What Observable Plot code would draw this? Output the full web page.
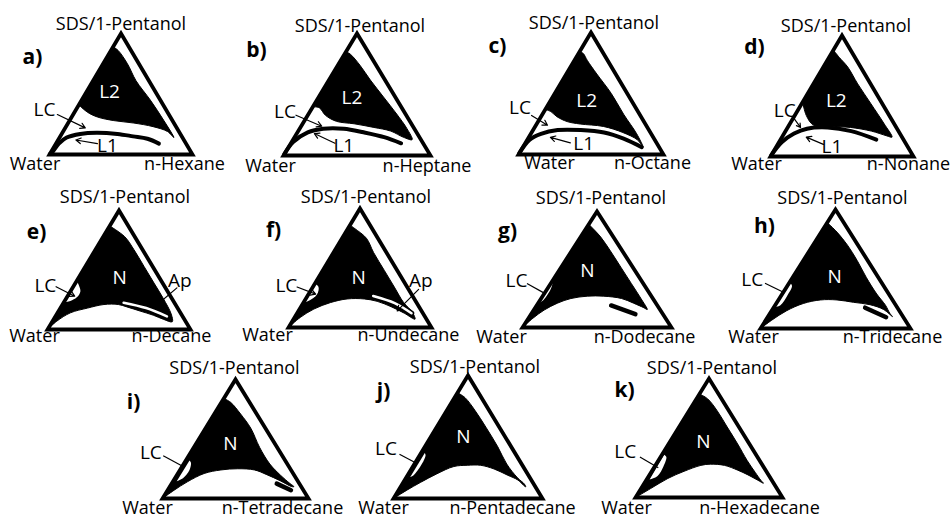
<!DOCTYPE html>
<html>
<head>
<meta charset="utf-8">
<script src="https://cdn.jsdelivr.net/npm/d3@7"></script>
<script src="https://cdn.jsdelivr.net/npm/@observablehq/plot@0.6"></script>
<style>
  html, body { margin: 0; padding: 0; background: #fff; }
  #fig { position: relative; width: 952px; height: 519px; overflow: hidden; }
</style>
</head>
<body>
<div id="fig"></div>
<script>
// Pseudo-ternary phase diagrams of water / n-alkane / SDS+1-pentanol.
// Every composition is [n-alkane %, SDS/1-pentanol %]; water is the remainder.

const tags = ["a)", "b)", "c)", "d)", "e)", "f)", "g)", "h)", "i)", "j)", "k)"];
const alkanes = ["n-Hexane", "n-Heptane", "n-Octane", "n-Nonane", "n-Decane", "n-Undecane",
  "n-Dodecane", "n-Tridecane", "n-Tetradecane", "n-Pentadecane", "n-Hexadecane"];
const apexName = "SDS/1-Pentanol";
const waterName = "Water";
const phaseNames = ["L2", "L2", "L2", "L2", "N", "N", "N", "N", "N", "N", "N"];

// Dark single-phase region: from its upper point on the water/surfactant side,
// down the oil-rich boundary to the tip, and back to the water/surfactant side.
const darkRegion = [
  [[0,89],[5,86],[17,75],[30,61],[48,45],[66,28],[80,14],[73,19],[61,23],[46,26],[31,28],[18,31],[9,35],[0,41]],
  [[0,85],[4,83],[15,74],[28,62],[44,48],[60,34],[73,22],[81,13],[74,15],[63,20],[50,23],[35,26],[22,28],[12,33],[5,39],[0,40]],
  [[0,84],[3,83],[9,77],[21,66],[39,50],[56,33],[73,17],[83,6],[76,12],[63,18],[47,23],[30,25],[20,27],[11,31],[5,35],[0,37]],
  [[0,88],[7,82],[17,74],[31,60],[48,44],[66,27],[77,16],[73,17],[60,21],[44,24],[30,25],[17,26],[8,34],[0,45]],
  [[0,87],[15,78],[27,67],[41,53],[55,39],[68,26],[80,13],[84,6.5],[77,8.5],[68,12],[57,15.5],[46,19],[39,21],[29,21],[19,18],[9,14],[3,7],[0,0]],
  [[0,86],[5,83],[17,75],[28,63],[43,48],[57,34],[70,21],[80,13],[85,7],[75,12],[63,17.5],[51,22],[41,24],[29,24],[19,21],[10,15.5],[4,8.5],[0,0]],
  [[0,89],[2.5,87],[13.5,78],[26,66],[40,52],[54,38],[67,25],[76,15.5],[73,17],[64,21],[54,25],[41,27],[30,27],[20,25],[13,21],[7,15],[3,8],[0,0]],
  [[0,89],[10.5,81],[23,70],[36,57],[49,43],[63,29],[73.5,19.6],[80,12.6],[83,10],[74,16],[63,20],[51,22],[39,24],[28,24],[18,21],[10,15],[4,7],[0,0]],
  [[0,84],[6,81],[18,71],[31,59],[45,43],[59,29],[71,19.6],[81,12.6],[85,10],[83.5,10],[73,15],[61.5,20],[51,24],[39,25],[28,24],[18,21],[10,14],[4.5,7],[0,0]],
  [[0,86],[7,82],[19,71.5],[33,58],[49,42],[62,28],[74.6,17],[82,11.7],[84,9.5],[83,10],[76,15],[67,19],[55.5,24],[45,27],[36,27],[27.5,26],[19,20],[11.5,13],[5.6,6.8],[0,0]],
  [[0,87],[7.5,83],[19,73],[32,60],[47,45],[60.5,31],[71,21],[78,14.5],[81,12],[76,14.5],[67,19],[58,23],[47,27],[37,28],[31,27],[22,22],[14,16],[6.5,7.5],[0,0]]
];

// L1 boundary line (hexane to nonane)
const l1Curve = [
  [[0,0.5],[1,2],[2,9],[5,14],[13,17],[24,18],[39,17],[51,15],[62,13],[72,9]],
  [[0,1],[1,11],[7,19],[16,22],[30,22],[45,19],[61,15],[75,10]],
  [[0,1],[1.5,12],[7,17],[17,20],[33,20],[50,18],[66,13],[82,6]],
  [[0,1],[2,12],[7,19],[14,23],[28,24],[46,21],[67,14]],
  [], [], [], [], [], [], []
];

// Liquid-crystal pocket inside the dark region (decane onwards)
const lcPocket = [
  [], [], [], [],
  [[0,41],[3.5,37],[7,32],[7,27],[4,24],[0,23]],
  [[0,37],[4,34],[6,28],[3,22.5],[0,21]],
  [[0,40],[1.5,37],[2.5,32],[2,23],[0,20.5]],
  [[0,38.7],[3,36],[4,28],[3.5,19.6],[0,18]],
  [[2.5,32],[4.5,30],[6.5,24],[5.5,17],[2.5,14.5]],
  [[2.5,37],[4,35],[5,27],[4,19],[2.5,17.5]],
  [[1.5,36],[4,34],[6,26],[6,18],[2,15]]
];

// Ap band (decane, undecane) and the short two-phase dash (dodecane to tetradecane)
const apBand = [[], [], [], [], [[42,22.5],[60,18],[78,11]], [[46,26.5],[64,20.5],[80,12]], [], [], [], [], []];
const oilDash = [[], [], [], [], [], [], [[50,19],[70,11.5]], [[61,17.5],[79,9.5]], [[72,12.5],[84.5,7]], [], []];

// Annotation anchors, in the same composition coordinates
const phasePos = [[16,52],[23,47],[25,44],[23,46],[29,43],[28,42],[19,49],[28,43],[23.5,46],[22,50],[23,46.5]];
const lcPos = [[-22,37],[-17,36],[-18,38],[-9,38],[-20,37],[-19,35],[-24,40],[-26,41],[-27,38],[-25,40],[-26,38]];
const lcPointer = [
  [[-11,33],[14,22]], [[-8,33],[14,24]], [[-7,32],[8,24]], [[-1,33],[9,24]],
  [[-12,36],[5,28]], [[-11,34],[5,28]], [[-16,38],[1,29]], [[-16,38],[1,30]],
  [[-17.5,36],[1.5,26.5]], [[-14,36],[1.5,28.5]], [[-14,34],[3,25]]
];
const l1Pos = [[37,7],[37,8],[40.5,9],[39,8]];
const l1Pointer = [[[29,9],[12.5,12]], [[30,10],[12,18]], [[31,9.5],[15,14]], [[32,10],[17,16]]];
const apPos = [[72,41],[73,39]];
const apPointer = [[[73,35],[65,18]], [[75,32],[69,14]]];

// Page layout of each diagram: [left end of base, top of apex, base width, height] in px
const frames = [
  [49,33,143,121], [283,33,147,122], [518,32,145,122], [770,35,143,121],
  [47,210,143,119], [288,208,143,119], [522,211,149,116], [760,209,150,119],
  [162,379,146,119], [393,375,149,123], [635,378,147,119]
];
const waterDx = [-14.5, -13, 31, -14, -13, -21, -21, -7, -15, -10, -9];
const oilDx = [-8, -3.5, -11, -5, -19, -23, -27, -18, -26, -30, -23];
const baseDy = [15, 16, 14, 13, 12, 13, 15, 14, 15, 15, 16];
const apexDx = [0, 3, 3, 4, 6, 6, 4, 7, -1, 7, 3];
const apexDy = [-4, -2, -4, -4, -8, -6, -8, -6, -6, -3, -5];
const tagOffset = [[-17,24],[-27,17],[-21,14],[-16,12],[-11,22],[-15,22],[-15,20],[4,17],[-29,23],[-10,16],[-11,12]];

// composition -> plane: horizontal position along the base, height = surfactant %
const tx = d => d[0] + d[1] / 2;
const ty = d => d[1];
const corners = [[0,0],[100,0],[0,100]];
const FONT = "'Open Sans', sans-serif";
const ML = 60, MR = 72, MT = 46, MB = 26;

const fig = document.getElementById("fig");

tags.forEach((tag, i) => {
  const [bx, ay, W, H] = frames[i];
  const marks = [];

  marks.push(Plot.line(darkRegion[i], {x: tx, y: ty, curve: "catmull-rom", fill: "black", stroke: "black", strokeWidth: 1}));
  if (lcPocket[i].length) {
    marks.push(Plot.line(lcPocket[i], {x: tx, y: ty, curve: "catmull-rom", fill: "white", stroke: "none"}));
  }
  if (l1Curve[i].length) {
    marks.push(Plot.line(l1Curve[i], {x: tx, y: ty, curve: "catmull-rom", stroke: "black", strokeWidth: 4, strokeLinecap: "round"}));
  }
  if (apBand[i].length) {
    marks.push(Plot.line(apBand[i], {x: tx, y: ty, curve: "catmull-rom", stroke: "black", strokeWidth: 5.5, strokeLinecap: "round"}));
    marks.push(Plot.line(apBand[i], {x: tx, y: ty, curve: "catmull-rom", stroke: "white", strokeWidth: 2.6, strokeLinecap: "round"}));
  }
  if (oilDash[i].length) {
    marks.push(Plot.line(oilDash[i], {x: tx, y: ty, stroke: "black", strokeWidth: 4.5, strokeLinecap: "round"}));
  }

  // triangle outline
  marks.push(Plot.line(corners, {x: tx, y: ty, curve: "linear-closed", stroke: "black", strokeWidth: 3.8, strokeLinejoin: "miter", strokeMiterlimit: 10}));

  // pointers
  const ptr = {
    x1: d => tx(d[0]), y1: d => ty(d[0]), x2: d => tx(d[1]), y2: d => ty(d[1]),
    stroke: "black", strokeWidth: 1.2
  };
  if (i < 6) marks.push(Plot.arrow([lcPointer[i]], {...ptr, headLength: 7}));
  else marks.push(Plot.link([lcPointer[i]], ptr));
  if (i < 4) marks.push(Plot.arrow([l1Pointer[i]], {...ptr, headLength: 7}));
  if (apBand[i].length) marks.push(Plot.arrow([apPointer[i - 4]], {...ptr, headLength: 7}));

  // region labels
  const lab = {x: tx, y: ty, fontFamily: FONT, fontSize: 19, textAnchor: "middle", lineAnchor: "middle"};
  marks.push(Plot.text([phasePos[i]], {...lab, text: () => phaseNames[i], fill: "white"}));
  marks.push(Plot.text([lcPos[i]], {...lab, text: () => "LC", fill: "black"}));
  if (i < 4) marks.push(Plot.text([l1Pos[i]], {...lab, text: () => "L1", fill: "black"}));
  if (apBand[i].length) marks.push(Plot.text([apPos[i - 4]], {...lab, text: () => "Ap", fill: "black"}));

  // vertex labels
  const vx = {x: tx, y: ty, fontFamily: FONT, fontSize: 18, fill: "black", textAnchor: "middle", lineAnchor: "bottom"};
  marks.push(Plot.text([corners[0]], {...vx, text: () => waterName, dx: waterDx[i], dy: baseDy[i]}));
  marks.push(Plot.text([corners[1]], {...vx, text: () => alkanes[i], dx: oilDx[i], dy: baseDy[i]}));
  marks.push(Plot.text([corners[2]], {...vx, text: () => apexName, dx: apexDx[i], dy: apexDy[i]}));

  // panel tag
  marks.push(Plot.text([tag], {
    frameAnchor: "top-left", text: d => d, dx: tagOffset[i][0], dy: tagOffset[i][1],
    fontFamily: FONT, fontSize: 21, fontWeight: "bold", fill: "black",
    textAnchor: "middle", lineAnchor: "middle"
  }));

  const chart = Plot.plot({
    width: ML + W + MR,
    height: MT + H + MB,
    marginLeft: ML, marginRight: MR, marginTop: MT, marginBottom: MB,
    x: {domain: [0, 100], axis: null},
    y: {domain: [0, 100], axis: null},
    style: "background: transparent; overflow: visible; position: absolute; left: " + (bx - ML) + "px; top: " + (ay - MT) + "px; max-width: none;",
    marks
  });
  fig.appendChild(chart);
});
</script>
</body>
</html>
